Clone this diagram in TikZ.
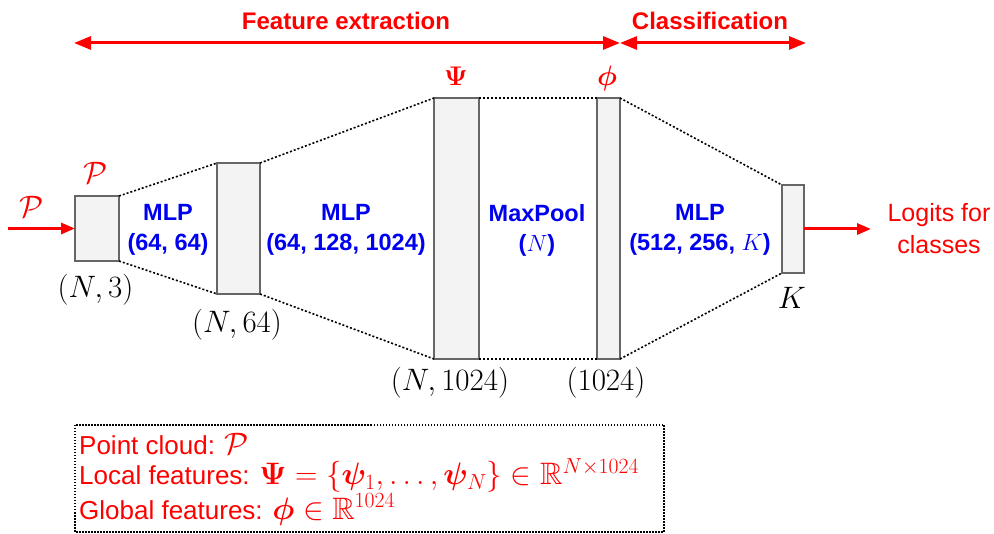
\RequirePackage{fix-cm}
\documentclass[tikz,border=0pt]{standalone}
\usepackage{amsmath,amssymb,bm}
\usepackage{fontspec}
\setmainfont{Liberation Sans}
\usetikzlibrary{arrows.meta}
\definecolor{myred}{RGB}{255,0,0}
\definecolor{myblue}{RGB}{0,0,240}
\definecolor{boxgray}{RGB}{102,102,102}
\definecolor{boxfill}{RGB}{243,243,243}
\begin{document}
\begin{tikzpicture}[x=1pt,y=-1pt,
  blk/.style={draw=boxgray, fill=boxfill, line width=2pt, inner sep=0pt, outer sep=0pt},
  dots/.style={line width=1.6pt, dash pattern=on 2pt off 2pt},
  redarr/.style={draw=myred, line width=3pt, -{Triangle[length=14pt,width=11pt]}},
  redbiarr/.style={draw=myred, line width=3pt, {Triangle[length=17pt,width=13pt]}-{Triangle[length=17pt,width=13pt]}},
  blab/.style={text=myblue, font=\fontsize{23.5}{30}\selectfont\bfseries, align=center, inner sep=0pt},
  rlab/.style={text=myred, font=\fontsize{25}{32}\selectfont, align=center, inner sep=0pt},
  leg/.style={text=myred, font=\fontsize{26}{32}\selectfont, inner sep=0pt, anchor=base west},
  rblab/.style={text=myred, font=\fontsize{24}{30}\selectfont\bfseries, inner sep=0pt},
  mlab/.style={font=\fontsize{31}{33}\selectfont, inner sep=0pt},
]
\useasboundingbox (0,0) rectangle (994,534);

% blocks
\node[blk, minimum width=44pt, minimum height=65pt]  (b1) at (97,228.5) {};
\node[blk, minimum width=43pt, minimum height=131pt] (b2) at (238.5,228.5) {};
\node[blk, minimum width=45pt, minimum height=261pt] (b3) at (456.5,228.5) {};
\node[blk, minimum width=23pt, minimum height=261pt] (b4) at (608.5,228.5) {};
\node[blk, minimum width=22pt, minimum height=88pt]  (b5) at (793,229) {};

% dotted connectors
\draw[dots] (b1.north east) -- (b2.north west);
\draw[dots] (b1.south east) -- (b2.south west);
\draw[dots] (b2.north east) -- (b3.north west);
\draw[dots] (b2.south east) -- (b3.south west);
\draw[dots] (b3.north east) -- (b4.north west);
\draw[dots] (b3.south east) -- (b4.south west);
\draw[dots] (b4.north east) -- (b5.north west);
\draw[dots] (b4.south east) -- (b5.south west);

% input / output arrows
\coordinate (in) at (8,228.5);
\coordinate (out) at (871,229);
\draw[redarr] (in) -- (b1.west);
\draw[redarr] (b5.east) -- (out);

% top arrows
\coordinate (fe1) at (74,43);
\coordinate (fe2) at (620,43);
\coordinate (cl2) at (806,43);
\draw[redbiarr] (fe1) -- (fe2);
\draw[redbiarr] (fe2) -- (cl2);
\node[rblab] (tfe) at (346,21) {Feature extraction};
\node[rblab] (tcl) at (710,21) {Classification};

% labels above blocks
\node[mlab, text=myred] (pin) at (32,207) {$\mathcal{P}$};
\node[mlab, text=myred] (pb1) at (96,173) {$\mathcal{P}$};
\node[mlab, text=myred, font=\fontsize{27}{30}\selectfont] (psi) at (456,76) {$\bm{\Psi}$};
\node[mlab, text=myred, font=\fontsize{28}{30}\selectfont] (phi) at (607,79) {$\bm{\phi}$};

% labels below blocks
\node[mlab] (s1) at (95.5,290) {$(N,3)$};
\node[mlab] (s2) at (237,325) {$(N,64)$};
\node[mlab] (s3) at (450,383) {$(N,1024)$};
\node[mlab] (s4) at (606,383) {$(1024)$};
\node[mlab] (s5) at (792,298) {$K$};

% operation labels
\node[blab] (m1) at (168,230) {MLP\\(64, 64)};
\node[blab] (m2) at (346,230) {MLP\\(64, 128, 1024)};
\node[blab] (m3) at (537,230) {MaxPool\\(\textmd{$N$})};
\node[blab] (m4) at (700,230) {MLP\\(512, 256, \textmd{$K$})};
\node[rlab] (lg) at (939,229) {Logits for\\classes};

% legend box
\draw[line width=1.5pt, dash pattern=on 1.5pt off 1.5pt] (75,425) rectangle (664,532);
\node[leg] (l1) at (79,455) {Point cloud: {\fontsize{31}{33}\selectfont$\mathcal{P}$}};
\node[leg] (l2) at (79,485) {Local features: {\fontsize{31}{33}\selectfont$\bm{\Psi}=\{\bm{\psi}_1,\ldots,\bm{\psi}_N\}\in\mathbb{R}^{N\times 1024}$}};
\node[leg] (l3) at (79,519) {Global features: {\fontsize{31}{33}\selectfont$\bm{\phi}\in\mathbb{R}^{1024}$}};
\end{tikzpicture}
\end{document}
